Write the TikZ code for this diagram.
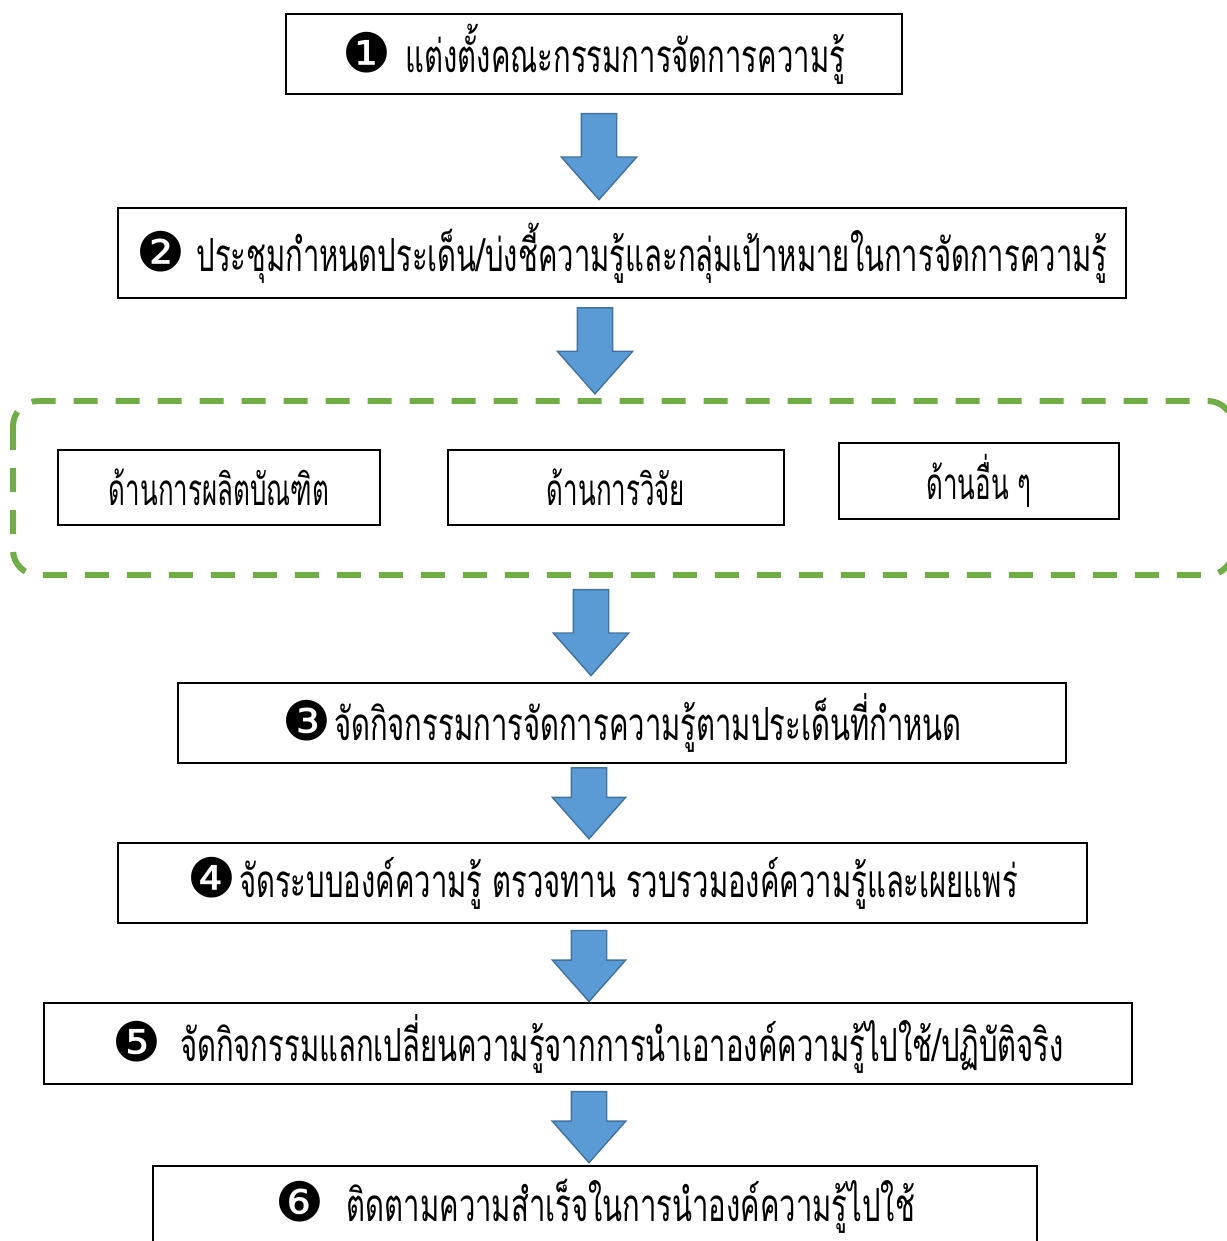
\documentclass[tikz,border=0pt]{standalone}
\usepackage{fontspec}
\newfontfamily\thaifont[Script=Thai, FakeStretch=0.64]{Loma}
\newfontfamily\thaisubfont[Script=Thai, FakeStretch=0.59]{Loma}
\newfontfamily\dingfont{DejaVu Sans}
\usetikzlibrary{shapes.arrows}

\definecolor{arrowblue}{HTML}{5B9BD5}
\definecolor{arrowedge}{HTML}{41719C}
\definecolor{groupgreen}{HTML}{70AD47}

\newcommand{\stepnum}[1]{{\dingfont\fontsize{31}{31}\selectfont #1}}

\begin{document}
\begin{tikzpicture}[
    box/.style={rectangle, draw, line width=1.1pt,
                minimum height=1.60cm, inner sep=0pt,
                align=center, font=\thaifont\fontsize{26}{30}\selectfont},
    subbox/.style={box, line width=0.8pt, minimum height=1.50cm,
                   font=\thaisubfont\fontsize{25}{29}\selectfont},
    group/.style={rectangle, draw=groupgreen, line width=3.4pt,
                  dash pattern=on 0.48cm off 0.36cm, rounded corners=0.5cm},
    bigarrow/.style={single arrow, draw=arrowedge, fill=arrowblue,
                     line width=0.8pt, rotate=-90, anchor=tail,
                     inner sep=0.34cm, single arrow head extend=0.40cm,
                     single arrow tip angle=83,
                     minimum width=1.48cm, minimum height=1.72cm},
    shortarrow/.style={bigarrow, single arrow head extend=0.38cm,
                       minimum width=1.44cm, minimum height=1.42cm},
]
\useasboundingbox (0,0) rectangle (24.54,-24.82);

% ── Step 1 ─────────────────────────────────────────────────────────
\node[box, minimum width=12.32cm] (step1) at (11.88,-1.08)
    {\stepnum{❶}\hspace{0.28cm}แต่งตั้งคณะกรรมการจัดการความรู้};

% ── Step 2 ─────────────────────────────────────────────────────────
\node[box, minimum width=20.16cm, minimum height=1.80cm] (step2) at (12.44,-5.06)
    {\stepnum{❷}\hspace{0.22cm}ประชุมกำหนดประเด็น/บ่งชี้ความรู้และกลุ่มเป้าหมายในการจัดการความรู้};

% ── Group : areas (dashed green frame, runs past the right edge) ───
\draw[group] (0.26,-8.02) rectangle (24.66,-11.50);
\node[subbox, minimum width=6.44cm] (area1) at (4.38,-9.75) {ด้านการผลิตบัณฑิต};
\node[subbox, minimum width=6.72cm] (area2) at (12.32,-9.75) {ด้านการวิจัย};
\node[subbox, minimum width=5.60cm, minimum height=1.52cm] (area3) at (19.58,-9.62) {ด้านอื่น ๆ};

% ── Steps 3 to 6 ───────────────────────────────────────────────────
\node[box, minimum width=17.76cm] (step3) at (12.44,-14.46)
    {\stepnum{❸}\hspace{0.06cm}จัดกิจกรรมการจัดการความรู้ตามประเด็นที่กำหนด};
\node[box, minimum width=19.38cm] (step4) at (12.05,-17.66)
    {\stepnum{❹}\hspace{0.06cm}จัดระบบองค์ความรู้ ตรวจทาน รวบรวมองค์ความรู้และเผยแพร่};
\node[box, minimum width=21.76cm, minimum height=1.62cm] (step5) at (11.76,-20.87)
    {\stepnum{❺}\hspace{0.38cm}จัดกิจกรรมแลกเปลี่ยนความรู้จากการนำเอาองค์ความรู้ไปใช้/ปฏิบัติจริง};
\node[box, minimum width=17.68cm] (step6) at (11.90,-24.12)
    {\stepnum{❻}\hspace{0.46cm}ติดตามความสำเร็จในการนำองค์ความรู้ไปใช้};

% ── Block arrows between the rows (placed by their tails) ──────────
\path (step1.south -| 11.98,0) -- (step2.north -| 11.98,0)
    node[bigarrow, pos=0.16] (arr1) {};
\path (step2.south -| 11.90,0) -- (0,-8.02 -| 11.90,0)
    node[bigarrow, pos=0.08] (arr2) {};
\path (0,-11.50 -| 11.82,0) -- (step3.north -| 11.82,0)
    node[bigarrow, pos=0.13] (arr3) {};
\path (step3.south -| 11.78,0) -- (step4.north -| 11.78,0)
    node[shortarrow, pos=0.04] (arr4) {};
\path (step4.south -| 11.78,0) -- (step5.north -| 11.78,0)
    node[shortarrow, pos=0.075] (arr5) {};
\path (step5.south -| 11.78,0) -- (step6.north -| 11.78,0)
    node[shortarrow, pos=0.075] (arr6) {};

\end{tikzpicture}
\end{document}
